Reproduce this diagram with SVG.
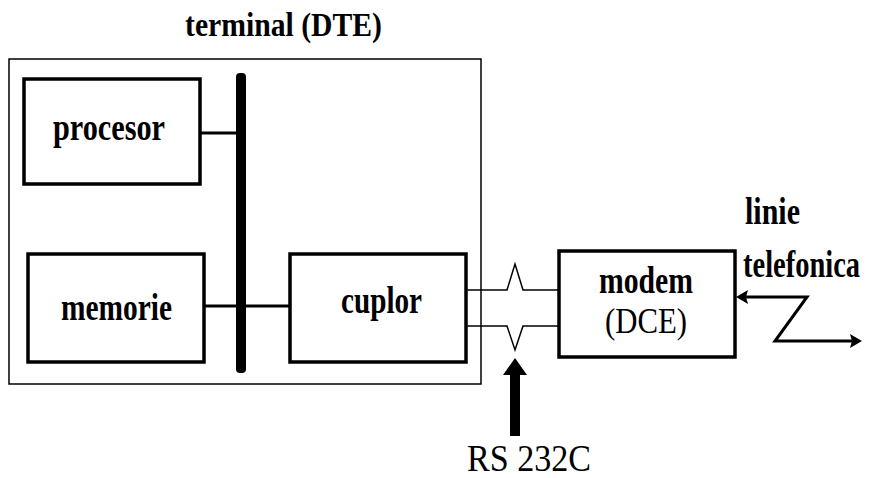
<svg xmlns="http://www.w3.org/2000/svg" width="876" height="478" viewBox="0 0 876 478">
<style>
.box{fill:#fff;stroke:#000;stroke-width:3.5}
.thin{fill:none;stroke:#000;stroke-width:1.5}
.wire{fill:none;stroke:#000;stroke-width:3}
</style>
<rect width="876" height="478" fill="#fff"/>
<g font-family="'Liberation Serif', serif" fill="#000">
<g id="terminal">
<rect x="9" y="59" width="472" height="325" fill="none" stroke="#000" stroke-width="1.5"/>
<text font-weight="bold" font-size="33" x="185" y="36" textLength="197" lengthAdjust="spacingAndGlyphs">terminal (DTE)</text>
</g>
<g id="bus">
<rect x="236" y="73" width="10" height="300" rx="4" fill="#000"/>
</g>
<g id="procesor">
<rect class="box" x="24" y="79" width="176" height="105"/>
<text font-weight="bold" font-size="37" x="53" y="140" textLength="112" lengthAdjust="spacingAndGlyphs">procesor</text>
</g>
<g id="memorie">
<rect class="box" x="28" y="254" width="176" height="108"/>
<text font-weight="bold" font-size="37" x="61" y="320" textLength="111" lengthAdjust="spacingAndGlyphs">memorie</text>
</g>
<g id="cuplor">
<rect class="box" x="290" y="254" width="176" height="108"/>
<text font-weight="bold" font-size="37" x="341" y="313" textLength="81" lengthAdjust="spacingAndGlyphs">cuplor</text>
</g>
<g id="modem">
<rect class="box" x="559" y="251" width="176" height="106"/>
<text font-weight="bold" font-size="37" x="599" y="293" textLength="94" lengthAdjust="spacingAndGlyphs">modem</text>
<text font-size="35" x="605" y="333" textLength="82" lengthAdjust="spacingAndGlyphs">(DCE)</text>
</g>
<g id="linie-telefonica">
<text font-weight="bold" font-size="37" x="745" y="224" textLength="55" lengthAdjust="spacingAndGlyphs">linie</text>
<text font-weight="bold" font-size="37" transform="translate(743,277) scale(0.77,1)" x="0" y="0">telefonica</text>
</g>
<g id="rs232c">
<text font-size="38" x="467" y="471" textLength="124" lengthAdjust="spacingAndGlyphs">RS 232C</text>
</g>
</g>
<g id="connectors">
<line class="wire" x1="200" y1="133" x2="237" y2="133"/>
<line class="wire" x1="204" y1="306" x2="290" y2="306"/>
<path class="thin" d="M466,290 H507 L515,264 L523,290 H559"/>
<path class="thin" d="M466,326 H507 L515,350 L523,326 H559"/>
<path d="M510,436 V375 H503 L515,358 L527,375 H520 V436 z" fill="#000"/>
<path class="wire" d="M745,297 H807 L775,341 H852"/>
<path d="M736,297 L748,290 L746,297 L748,304 z" fill="#000"/>
<path d="M862,341 L850,334 L852,341 L850,348 z" fill="#000"/>
</g>
</svg>
